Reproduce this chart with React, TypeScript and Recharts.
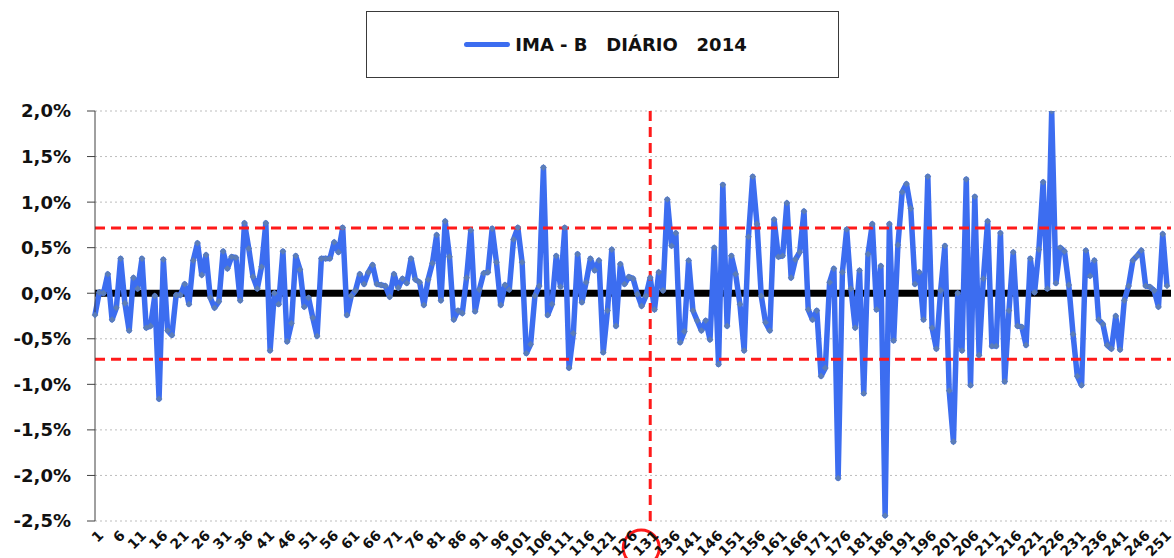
import React from "react";
import {
  LineChart,
  Line,
  XAxis,
  YAxis,
  CartesianGrid,
  ReferenceLine,
  ReferenceDot,
} from "recharts";

// IMA-B daily returns 2014, in % (day 1..252)
const dailyReturns = [
  -0.24, 0.01, 0.0, 0.21, -0.29, -0.16, 0.38, -0.11, -0.41, 0.17,
  0.05, 0.38, -0.38, -0.36, -0.03, -1.16, 0.37, -0.41, -0.46, -0.02,
  -0.02, 0.1, -0.12, 0.36, 0.55, 0.2, 0.42, -0.05, -0.16, -0.09,
  0.46, 0.27, 0.4, 0.39, -0.08, 0.77, 0.49, 0.18, 0.05, 0.29,
  0.77, -0.63, 0.0, -0.12, 0.46, -0.53, -0.33, 0.41, 0.26, -0.15,
  -0.05, -0.27, -0.47, 0.38, 0.38, 0.38, 0.56, 0.45, 0.72, -0.24,
  -0.03, 0.03, 0.21, 0.1, 0.23, 0.31, 0.1, 0.09, 0.08, -0.04,
  0.21, 0.06, 0.16, 0.11, 0.38, 0.15, 0.12, -0.13, 0.15, 0.33,
  0.64, -0.08, 0.79, 0.4, -0.29, -0.19, -0.22, 0.17, 0.69, -0.2,
  0.04, 0.22, 0.23, 0.71, 0.34, -0.13, 0.09, 0.04, 0.59, 0.72,
  0.34, -0.66, -0.56, -0.03, 0.08, 1.38, -0.24, -0.12, 0.41, 0.07,
  0.72, -0.82, -0.44, 0.43, -0.1, 0.12, 0.38, 0.25, 0.36, -0.65,
  -0.19, 0.48, -0.36, 0.32, 0.1, 0.18, 0.16, -0.01, -0.14, -0.03,
  0.17, -0.18, 0.23, 0.03, 1.03, 0.52, 0.66, -0.54, -0.42, 0.36,
  -0.19, -0.3, -0.41, -0.3, -0.51, 0.5, -0.78, 1.19, -0.36, 0.41,
  0.21, -0.12, -0.63, 0.62, 1.28, 0.76, -0.03, -0.32, -0.41, 0.81,
  0.4, 0.41, 0.99, 0.17, 0.37, 0.45, 0.9, -0.18, -0.29, -0.19,
  -0.91, -0.82, 0.12, 0.27, -2.03, 0.23, 0.7, 0.05, -0.38, 0.25,
  -1.1, 0.43, 0.76, -0.18, 0.3, -2.44, 0.76, -0.52, 0.53, 1.11,
  1.2, 0.93, 0.1, 0.23, -0.29, 1.28, -0.38, -0.61, 0.03, 0.52,
  -1.07, -1.63, 0.0, -0.63, 1.25, -1.01, 1.06, -0.68, 0.16, 0.79,
  -0.58, -0.58, 0.66, -0.97, -0.19, 0.45, -0.36, -0.37, -0.57, 0.38,
  0.01, 0.48, 1.22, 0.05, 2.0, 0.11, 0.5, 0.46, 0.09, -0.45,
  -0.91, -1.01, 0.47, 0.19, 0.36, -0.29, -0.34, -0.57, -0.61, -0.25,
  -0.62, -0.08, 0.08, 0.36, 0.41, 0.47, 0.08, 0.07, 0.03, -0.15,
  0.65, 0.08,
];

const days = dailyReturns.map((_, i) => i + 1);
const yTicks = [-2.5, -2.0, -1.5, -1.0, -0.5, 0, 0.5, 1.0, 1.5, 2.0];
const upperBand = 0.715;
const lowerBand = -0.725;
const markedDay = 131;
const seriesName = "IMA - B   DIÁRIO   2014";

const data = days.map((d, i) => ({ day: d, value: dailyReturns[i] }));

const FONT = "'DejaVu Sans', sans-serif";

const fmtPct = (v: number) => v.toFixed(1).replace(".", ",") + "%";

const DayTick = ({ x, y, payload }: any) => (
  <g transform={`translate(${x + 6},${y + 10})`}>
    <text
      transform="rotate(-45)"
      textAnchor="end"
      dy="0.35em"
      fontFamily={FONT}
      fontWeight={700}
      fontSize={14}
      fill="#111"
    >
      {payload.value}
    </text>
  </g>
);

const Diamond = ({ cx, cy, index }: any) => (
  <path
    key={index}
    d={`M${cx},${cy - 3.4}L${cx + 3.4},${cy}L${cx},${cy + 3.4}L${cx - 3.4},${cy}Z`}
    fill="#5b7db8"
  />
);

export default function App() {
  return (
    <div
      style={{
        position: "absolute",
        left: 0,
        top: 0,
        width: 1174,
        height: 558,
        background: "#fff",
        overflow: "hidden",
      }}
    >
      <div
        style={{
          position: "absolute",
          left: 366,
          top: 11,
          width: 471,
          height: 65,
          border: "1.5px solid #3a3a3a",
          display: "flex",
          alignItems: "center",
          justifyContent: "center",
          fontFamily: FONT,
          fontWeight: 700,
          fontSize: 18,
          color: "#111",
          whiteSpace: "pre",
          boxSizing: "content-box",
        }}
      >
        <span
          style={{
            display: "inline-block",
            width: 46,
            height: 5,
            borderRadius: 3,
            background: "#3c6df0",
            marginRight: 5,
            marginLeft: 6,
          }}
        />
        {seriesName}
      </div>
      <LineChart
        width={1174}
        height={558}
        data={data}
        margin={{ top: 111, right: 3, bottom: 0, left: 0 }}
      >
        <CartesianGrid
          vertical={false}
          stroke="#bdbdbd"
          strokeDasharray="2 3"
        />
        <XAxis
          dataKey="day"
          interval={4}
          axisLine={false}
          tickLine={false}
          tickSize={0}
          height={37}
          padding={{ left: 0, right: 4 }}
          tick={<DayTick />}
        />
        <YAxis
          domain={[-2.5, 2.0]}
          ticks={yTicks}
          width={95}
          tickSize={8}
          tickMargin={16}
          axisLine={{ stroke: "#404040" }}
          tickLine={{ stroke: "#404040" }}
          tickFormatter={fmtPct}
          tick={{ fontFamily: FONT, fontWeight: 700, fontSize: 18, fill: "#111" }}
          allowDataOverflow
        />
        <ReferenceLine y={0} stroke="#000" strokeWidth={7} zIndex={350} />
        <Line
          dataKey="value"
          stroke="#3c6df0"
          strokeWidth={5.5}
          strokeLinejoin="round"
          dot={<Diamond />}
          activeDot={false}
          isAnimationActive={false}
        />
        <ReferenceLine
          y={upperBand}
          stroke="#ff1a1a"
          strokeWidth={3}
          strokeDasharray="10 6"
          zIndex={450}
        />
        <ReferenceLine
          y={lowerBand}
          stroke="#ff1a1a"
          strokeWidth={3}
          strokeDasharray="10 6"
          zIndex={450}
        />
        <ReferenceLine
          x={markedDay}
          stroke="#ff1a1a"
          strokeWidth={3}
          strokeDasharray="10 6"
          zIndex={450}
        />
        <ReferenceDot
          x={markedDay}
          y={-2.5}
          ifOverflow="visible"
          zIndex={450}
          shape={(p: any) => (
            <circle
              cx={p.cx - 9}
              cy={p.cy + 27}
              r={18}
              fill="none"
              stroke="#ff1a1a"
              strokeWidth={3}
            />
          )}
        />
      </LineChart>
    </div>
  );
}
